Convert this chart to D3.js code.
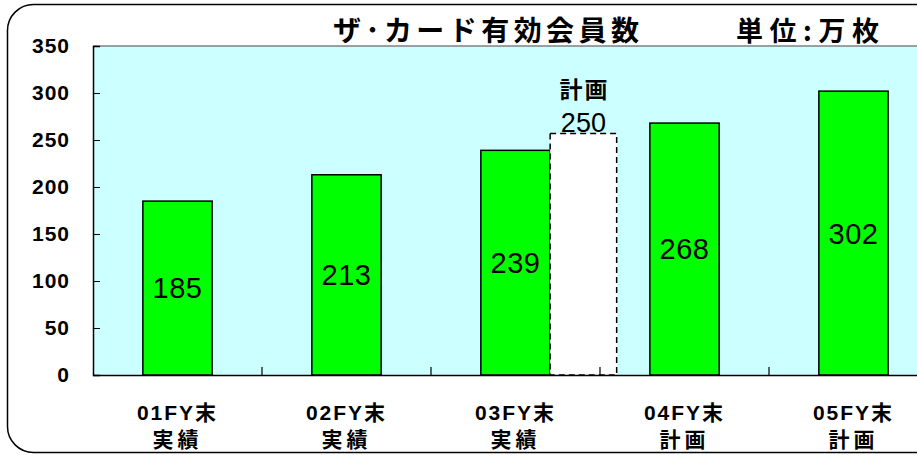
<!DOCTYPE html>
<html>
<head>
<meta charset="utf-8">
<script src="https://cdn.jsdelivr.net/npm/d3@7"></script>
<style>
  body { margin: 0; background: #fff; }
  svg text { font-family: "Liberation Sans", Arial, "Noto Sans CJK JP", sans-serif; fill: #000; }
  .jp { font-family: "Noto Sans CJK JP", sans-serif; }
</style>
</head>
<body>
<div id="chart"></div>
<script>
// data
var years = ["01FY末", "02FY末", "03FY末", "04FY末", "05FY末"];
var kinds = ["実績", "実績", "実績", "計画", "計画"];
var members = [185, 213, 239, 268, 302];
var planLabel = ["計画", "250"];
var planHeight = 257;   // dashed plan box drawn a bit above 250 in the original
var yTicks = [0, 50, 100, 150, 200, 250, 300, 350];

var svgWidth = 917;
var svgHeight = 455;
var margins = { top: 46, right: -21, bottom: 80, left: 93 };
var width = svgWidth - margins.left - margins.right;
var height = svgHeight - margins.top - margins.bottom;

var svg = d3.select("#chart")
  .append("svg")
  .attr("width", svgWidth)
  .attr("height", svgHeight);

// outer rounded frame
svg.append("rect")
  .attr("x", 7.5).attr("y", 4.5)
  .attr("width", 940).attr("height", 448)
  .attr("rx", 26).attr("ry", 26)
  .attr("fill", "none")
  .attr("stroke", "#000")
  .attr("stroke-width", 1.5);

var chartGroup = svg.append("g")
  .attr("transform", `translate(${margins.left}, ${margins.top})`);

var x = d3.scaleBand().domain(years).range([0, width]).padding(0);
var y = d3.scaleLinear().domain([0, 350]).range([height, 0]);
var barW = x.bandwidth() * 0.41;

// plot background
chartGroup.append("rect")
  .attr("width", width).attr("height", height)
  .attr("fill", "#ccffff");
chartGroup.append("line")
  .attr("x1", 0).attr("x2", width).attr("y1", 0).attr("y2", 0)
  .attr("stroke", "#808080").attr("stroke-width", 1.5);

// bars
chartGroup.selectAll(".bar").data(members).enter()
  .append("rect")
  .attr("class", "bar")
  .attr("x", (d, i) => x(years[i]) + (x.bandwidth() - barW) / 2)
  .attr("y", d => y(d))
  .attr("width", barW)
  .attr("height", d => y(0) - y(d))
  .attr("fill", "#00ff00")
  .attr("stroke", "#000")
  .attr("stroke-width", 1.5);

// value labels
chartGroup.selectAll(".val").data(members).enter()
  .append("text")
  .attr("class", "val")
  .attr("x", (d, i) => x(years[i]) + x.bandwidth() / 2)
  .attr("y", d => (y(d) + y(0)) / 2)
  .attr("dy", "0.36em")
  .attr("text-anchor", "middle")
  .attr("font-size", 29)
  .attr("letter-spacing", 0.5)
  .text(d => d);

// dashed plan box next to 03FY
var planX = x(years[2]) + (x.bandwidth() + barW) / 2;
var planCx = planX + barW * 0.48;
chartGroup.append("rect")
  .attr("x", planX)
  .attr("y", y(planHeight))
  .attr("width", barW * 0.96)
  .attr("height", y(0) - y(planHeight))
  .attr("fill", "#fff")
  .attr("stroke", "#000")
  .attr("stroke-width", 1.5)
  .attr("stroke-dasharray", "6,4");
chartGroup.append("text")
  .attr("class", "jp")
  .attr("x", planCx + 1)
  .attr("y", y(planHeight) - 35)
  .attr("text-anchor", "middle")
  .attr("font-size", 23)
  .attr("font-weight", "bold")
  .attr("letter-spacing", 2)
  .text(planLabel[0]);
chartGroup.append("text")
  .attr("x", planCx)
  .attr("y", y(planHeight) - 1)
  .attr("text-anchor", "middle")
  .attr("font-size", 27)
  .text(planLabel[1]);

// axes
var leftAxis = d3.axisLeft(y).tickValues(yTicks).tickSize(-7).tickPadding(23);
var bottomAxis = d3.axisBottom(x).tickSize(0).tickFormat("");

var yg = chartGroup.append("g").call(leftAxis);
yg.select(".domain").attr("stroke", "#000").attr("stroke-width", 1.5);
yg.selectAll("text")
  .attr("font-size", 21)
  .attr("font-weight", "bold")
  .attr("letter-spacing", 1)
  .attr("font-family", "Liberation Sans, Arial, sans-serif");

var xg = chartGroup.append("g")
  .attr("transform", `translate(0, ${height})`)
  .call(bottomAxis);
xg.select(".domain").attr("stroke", "#000").attr("stroke-width", 1.5);

// category separator ticks pointing up
chartGroup.selectAll(".sep").data(years.slice(1)).enter()
  .append("line")
  .attr("x1", d => x(d)).attr("x2", d => x(d))
  .attr("y1", height).attr("y2", height - 8)
  .attr("stroke", "#000").attr("stroke-width", 1.2);

// category labels
var cat = chartGroup.selectAll(".cat").data(years).enter()
  .append("text")
  .attr("class", "cat")
  .attr("x", d => x(d) + x.bandwidth() / 2)
  .attr("y", height + 45)
  .attr("text-anchor", "middle")
  .attr("font-size", 21)
  .attr("font-weight", "bold")
  .attr("letter-spacing", 2);
cat.append("tspan").text(d => d);
cat.append("tspan")
  .attr("class", "jp")
  .attr("x", d => x(d) + x.bandwidth() / 2)
  .attr("dy", 27)
  .attr("letter-spacing", 4)
  .text((d, i) => kinds[i]);

// titles
svg.append("text")
  .attr("class", "jp")
  .attr("x", 333).attr("y", 41)
  .attr("font-size", 28)
  .attr("font-weight", "bold")
  .attr("textLength", 306)
  .attr("lengthAdjust", "spacing")
  .text("ザ･カード有効会員数");
svg.append("text")
  .attr("class", "jp")
  .attr("x", 736).attr("y", 41)
  .attr("font-size", 27)
  .attr("font-weight", "bold")
  .attr("textLength", 143)
  .attr("lengthAdjust", "spacing")
  .text("単位:万枚");
</script>
</body>
</html>
